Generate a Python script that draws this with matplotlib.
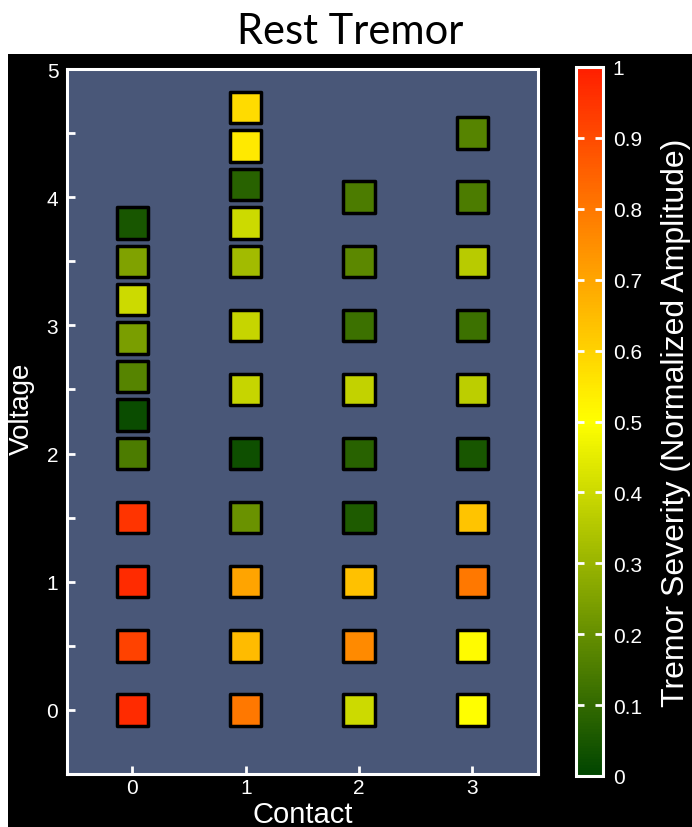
import numpy as np
import matplotlib
matplotlib.use("Agg")
import matplotlib.pyplot as plt
from matplotlib.colors import LinearSegmentedColormap
from matplotlib.patches import Rectangle

# measured settings, one list per contact
contact = [0]*11 + [1]*12 + [2]*9 + [3]*10
voltage = [0, 0.5, 1.0, 1.5, 2.0, 2.3, 2.6, 2.9, 3.2, 3.5, 3.8,
           0, 0.5, 1.0, 1.5, 2.0, 2.5, 3.0, 3.5, 3.8, 4.1, 4.4, 4.7,
           0, 0.5, 1.0, 1.5, 2.0, 2.5, 3.0, 3.5, 4.0,
           0, 0.5, 1.0, 1.5, 2.0, 2.5, 3.0, 3.5, 4.0, 4.5]
severity = [0.97, 0.92, 0.97, 0.95, 0.15, 0.02, 0.17, 0.24, 0.40, 0.25, 0.05,
            0.80, 0.65, 0.70, 0.21, 0.03, 0.39, 0.39, 0.32, 0.40, 0.08, 0.55, 0.58,
            0.40, 0.76, 0.64, 0.06, 0.08, 0.38, 0.12, 0.18, 0.15,
            0.50, 0.51, 0.80, 0.63, 0.05, 0.37, 0.12, 0.36, 0.15, 0.17]

xticks = [0, 1, 2, 3]
yticks = [0, 1, 2, 3, 4, 5]
cticks = [0, 0.1, 0.2, 0.3, 0.4, 0.5, 0.6, 0.7, 0.8, 0.9, 1]
clabels = ["0", "0.1", "0.2", "0.3", "0.4", "0.5", "0.6", "0.7", "0.8", "0.9", "1"]

W, H = 692, 828
fig = plt.figure(figsize=(W/100, H/100), dpi=100, facecolor="white")
fig.patches.append(Rectangle((8/W, 0), 1 - 8/W, (H - 55)/H, transform=fig.transFigure,
                             facecolor="black", edgecolor="none", zorder=-10))

fig.text(350/W, 1 - 32/H, "Rest Tremor", ha="center", va="center",
         fontsize=30, family="Lato", color="black")

cmap = LinearSegmentedColormap.from_list(
    "tremor", [(0, (0.0, 0.27, 0.0)), (0.5, (1.0, 1.0, 0.0)), (1.0, (1.0, 0.12, 0.0))])

plt.rcParams['font.family'] = ['Liberation Sans', 'DejaVu Sans']

ax = fig.add_axes([66.7/W, 1 - 775/H, (538 - 66.7)/W, (775 - 70)/H])
ax.set_facecolor("#495778")
sc = ax.scatter(contact, voltage, c=severity, cmap=cmap, vmin=0, vmax=1,
                marker="s", s=515, edgecolors="black", linewidths=2.5, zorder=3)
ax.set_xlim(-0.58, 3.58)
ax.set_ylim(-0.5, 5)
ax.set_xticks(xticks)
ax.set_yticks(yticks)
ax.set_yticks(np.arange(0.5, 5, 1.0), minor=True)
for s in ax.spines.values():
    s.set_color("white")
    s.set_linewidth(2.2)
ax.tick_params(axis="both", which="both", direction="in", colors="white",
               length=6, width=2, labelsize=15)
ax.tick_params(axis="y", pad=6)
ax.tick_params(axis="x", pad=3)
ax.set_xlabel("Contact", color="white", fontsize=21, labelpad=2)
ax.set_ylabel("Voltage", color="white", fontsize=20)
ax.yaxis.set_label_coords(-0.068, 0.52)

cax = fig.add_axes([576/W, 1 - 777/H, 27/W, (777 - 68)/H])
cb = fig.colorbar(sc, cax=cax, ticks=cticks)
cb.ax.set_yticklabels(clabels)
cb.outline.set_edgecolor("white")
cb.outline.set_linewidth(2.2)
cax.yaxis.set_ticks_position("both")
cax.yaxis.set_label_position("right")
cax.tick_params(which="both", direction="in", colors="white", length=6, width=2,
                labelsize=15, pad=7, labelleft=False, labelright=True)
cax.minorticks_off()
cb.set_label("Tremor Severity (Normalized Amplitude)", color="white", fontsize=23, labelpad=14)

fig.savefig("out.png", dpi=100, facecolor=fig.get_facecolor())
